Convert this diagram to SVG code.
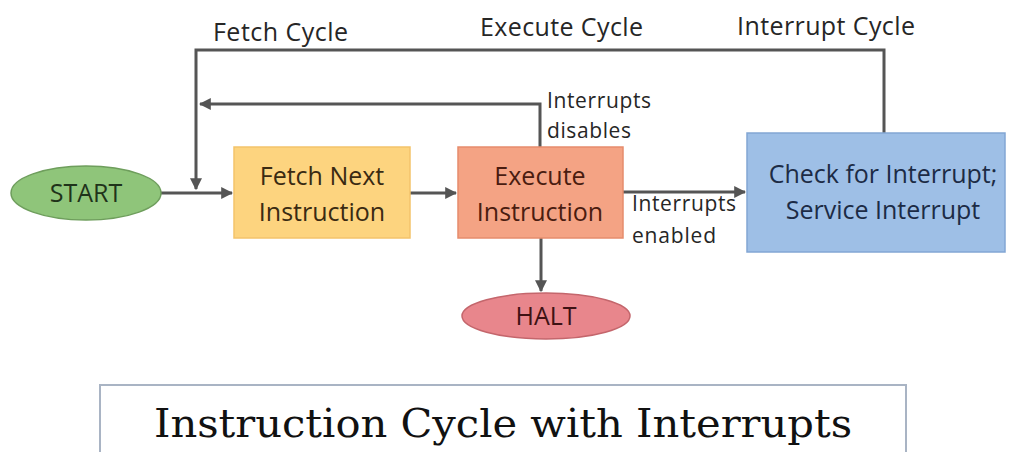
<svg xmlns="http://www.w3.org/2000/svg" width="1009" height="452" viewBox="0 0 1009 452">
<style>
.lbl{font-family:"Open Sans","Liberation Sans",sans-serif;font-size:25px;fill:#262626}
.sm{font-family:"Open Sans","Liberation Sans",sans-serif;font-size:21px;fill:#262626}
.nt{font-family:"Open Sans","Liberation Sans",sans-serif;font-size:25px;text-anchor:middle}
.ln{fill:none;stroke:#555;stroke-width:3}
</style>
<defs>
<marker id="ah" viewBox="0 0 10 10" refX="9" refY="5" markerWidth="4" markerHeight="4" orient="auto" markerUnits="strokeWidth">
<path d="M0,0 L10,5 L0,10 z" fill="#555"/>
</marker>
</defs>
<rect width="1009" height="452" fill="#fff"/>
<g id="connectors">
<line class="ln" x1="161" y1="193" x2="232" y2="193" marker-end="url(#ah)"/>
<line class="ln" x1="410" y1="193" x2="456" y2="193" marker-end="url(#ah)"/>
<line class="ln" x1="623" y1="192" x2="745" y2="192" marker-end="url(#ah)"/>
<line class="ln" x1="541" y1="238" x2="541" y2="291" marker-end="url(#ah)"/>
<polyline class="ln" points="540,147 540,104 200,104" marker-end="url(#ah)"/>
<polyline class="ln" points="884,133 884,50 196,50 196,189" marker-end="url(#ah)"/>
</g>
<g id="labels">
<text class="lbl" x="213" y="41" textLength="135">Fetch Cycle</text>
<text class="lbl" x="480" y="36" textLength="163">Execute Cycle</text>
<text class="lbl" x="737" y="35" textLength="178">Interrupt Cycle</text>
<text class="sm" x="547" y="108" textLength="104">Interrupts</text>
<text class="sm" x="547" y="138" textLength="84">disables</text>
<text class="sm" x="632" y="211" textLength="104">Interrupts</text>
<text class="sm" x="632" y="243" textLength="84">enabled</text>
</g>
<g id="start">
<ellipse cx="86" cy="193" rx="75" ry="27" fill="#8fc57a" stroke="#6e9e5c" stroke-width="1.5"/>
<text class="nt" x="86" y="202" fill="#1f331a">START</text>
</g>
<g id="fetch">
<rect x="234" y="147" width="176" height="91" fill="#fdd47f" stroke="#f3c36b" stroke-width="1.5"/>
<text class="nt" x="322" y="185" fill="#3a2a12">Fetch Next</text>
<text class="nt" x="322" y="221" fill="#3a2a12">Instruction</text>
</g>
<g id="execute">
<rect x="458" y="147" width="165" height="91" fill="#f4a384" stroke="#e68c6c" stroke-width="1.5"/>
<text class="nt" x="540" y="185" fill="#4a1c10">Execute</text>
<text class="nt" x="540" y="221" fill="#4a1c10">Instruction</text>
</g>
<g id="check">
<rect x="747" y="133" width="258" height="119" fill="#9ebfe6" stroke="#82a6d4" stroke-width="1.5"/>
<text class="nt" x="883" y="183" fill="#1c2b45">Check for Interrupt;</text>
<text class="nt" x="883" y="219" fill="#1c2b45">Service Interrupt</text>
</g>
<g id="halt">
<ellipse cx="546" cy="316" rx="84" ry="23" fill="#e8868c" stroke="#c4666c" stroke-width="1.5"/>
<text class="nt" x="546" y="325" fill="#3e1214">HALT</text>
</g>
<g id="title">
<rect x="100" y="385" width="806" height="80" fill="#fff" stroke="#a9b4c4" stroke-width="2"/>
<text x="503" y="437" text-anchor="middle" textLength="698" lengthAdjust="spacingAndGlyphs" style="font-family:'DejaVu Serif','Liberation Serif',serif;font-size:40px;fill:#111">Instruction Cycle with Interrupts</text>
</g>
</svg>
